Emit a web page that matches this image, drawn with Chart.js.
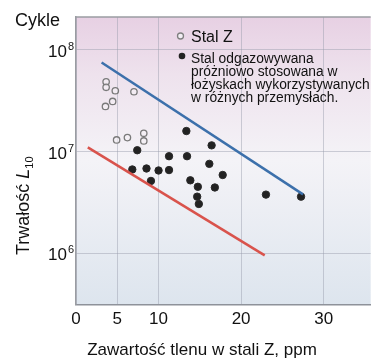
<!DOCTYPE html>
<html>
<head>
<meta charset="utf-8">
<script src="https://cdn.jsdelivr.net/npm/chart.js@4.4.0/dist/chart.umd.min.js"></script>
<style>
  html, body { margin: 0; padding: 0; background: #fff; }
  #wrap { width: 376px; height: 358px; }
</style>
</head>
<body>
<div id="wrap"><canvas id="chart"></canvas></div>
<script>
'use strict';

// oxygen content [ppm] and life L10 [cycles]
let stalZX = [3.65, 3.65, 4.76, 7.02, 3.57, 4.44, 4.92, 6.23, 8.21, 8.21];
let stalZY = [4.83e7, 4.27e7, 3.95e7, 3.86e7, 2.77e7, 3.10e7, 1.30e7, 1.37e7, 1.51e7, 1.27e7];

let vacX = [13.37, 16.43, 7.42, 11.27, 13.45, 16.15, 6.82, 8.54, 10.0, 11.27,
  17.77, 9.08, 13.85, 14.76, 16.82, 14.68, 14.88, 23.01, 27.26];
let vacY = [1.59e7, 1.15e7, 1.03e7, 9.0e6, 9.0e6, 7.57e6, 6.67e6, 6.82e6, 6.52e6, 6.58e6,
  5.89e6, 5.15e6, 5.22e6, 4.51e6, 4.44e6, 3.61e6, 3.06e6, 3.78e6, 3.61e6];

let blueLineX = [3.1, 27.5];
let blueLineY = [7.49e7, 3.8e6];
let redLineX = [1.43, 22.86];
let redLineY = [1.10e7, 9.57e5];

let xTicks = [0, 5, 10, 20, 30];
let yTicks = [1e6, 1e7, 1e8];
let yTickExp = ['6', '7', '8'];

let legendZ = 'Stal Z';
let legendVac = ['Stal odgazowywana', 'próżniowo stosowana w', 'łożyskach wykorzystywanych', 'w różnych przemysłach.'];

function toPoints(xs, ys) {
  let pts = [];
  for (let i = 0; i < xs.length; i++) {
    pts.push({ x: xs[i], y: ys[i] });
  }
  return pts;
}

const FONT = '"Liberation Sans", Arial, sans-serif';

const bgPlugin = {
  id: 'bg',
  beforeDraw(chart) {
    const { ctx, chartArea: a } = chart;
    let g = ctx.createLinearGradient(0, a.top, 0, a.bottom);
    g.addColorStop(0, '#e7d0e3');
    g.addColorStop(0.2, '#eee2ed');
    g.addColorStop(0.5, '#f4f3f7');
    g.addColorStop(1, '#dde5ee');
    ctx.save();
    ctx.fillStyle = g;
    ctx.fillRect(a.left, a.top, a.right - a.left, a.bottom - a.top);
    ctx.restore();
  }
};

const textPlugin = {
  id: 'texts',
  afterDraw(chart) {
    const ctx = chart.ctx;
    const a = chart.chartArea;
    const yScale = chart.scales.y;
    ctx.save();

    // top border
    ctx.strokeStyle = '#9a9ca2';
    ctx.lineWidth = 1.5;
    ctx.beginPath();
    ctx.moveTo(a.left, a.top);
    ctx.lineTo(a.right, a.top);
    ctx.stroke();

    ctx.fillStyle = '#111';
    ctx.textBaseline = 'alphabetic';

    // y tick labels 10^n
    for (let i = 0; i < yTicks.length; i++) {
      let py = yScale.getPixelForValue(yTicks[i]);
      ctx.font = '17px ' + FONT;
      ctx.textAlign = 'right';
      ctx.fillText('10', 67, py + 7);
      ctx.font = '11px ' + FONT;
      ctx.textAlign = 'left';
      ctx.fillText(yTickExp[i], 68, py);
    }

    // unit
    ctx.font = '18px ' + FONT;
    ctx.textAlign = 'left';
    ctx.fillText('Cykle', 15, 26);

    // y title
    ctx.save();
    ctx.translate(29, 255);
    ctx.rotate(-Math.PI / 2);
    ctx.font = '18px ' + FONT;
    let t1 = 'Trwałość ';
    ctx.fillText(t1, 0, 0);
    let w = ctx.measureText(t1).width;
    ctx.font = 'italic 18px ' + FONT;
    ctx.fillText('L', w, 0);
    w += ctx.measureText('L').width;
    ctx.font = '11px ' + FONT;
    ctx.fillText('10', w, 4);
    ctx.restore();

    // x title
    ctx.font = '17px ' + FONT;
    ctx.textAlign = 'center';
    ctx.fillText('Zawartość tlenu w stali Z, ppm', 202, 355);

    // legend
    ctx.beginPath();
    ctx.arc(180.5, 36, 3, 0, Math.PI * 2);
    ctx.fillStyle = '#f2eef4';
    ctx.fill();
    ctx.strokeStyle = '#808080';
    ctx.lineWidth = 1.3;
    ctx.stroke();
    ctx.fillStyle = '#111';
    ctx.font = '16px ' + FONT;
    ctx.textAlign = 'left';
    ctx.fillText(legendZ, 191, 42);

    ctx.beginPath();
    ctx.arc(182, 56, 3.3, 0, Math.PI * 2);
    ctx.fillStyle = '#222';
    ctx.fill();
    ctx.fillStyle = '#111';
    ctx.font = '13.8px ' + FONT;
    for (let i = 0; i < legendVac.length; i++) {
      ctx.fillText(legendVac[i], 191, 63.3 + i * 12.8);
    }
    ctx.restore();
  }
};

function renderChart() {
  const ctx = document.getElementById('chart');
  const config = {
    type: 'scatter',
    data: {
      datasets: [
        {
          label: 'blue',
          data: toPoints(blueLineX, blueLineY),
          showLine: true,
          borderColor: '#3c70ab',
          borderWidth: 2.5,
          pointRadius: 0
        },
        {
          label: 'red',
          data: toPoints(redLineX, redLineY),
          showLine: true,
          borderColor: '#d9534c',
          borderWidth: 2.5,
          pointRadius: 0
        },
        {
          label: legendZ,
          data: toPoints(stalZX, stalZY),
          pointRadius: 3.2,
          borderWidth: 1.3,
          borderColor: '#7a7a7a',
          backgroundColor: 'rgba(245,240,245,0.6)'
        },
        {
          label: legendVac.join(' '),
          data: toPoints(vacX, vacY),
          pointRadius: 3.7,
          borderWidth: 1,
          borderColor: '#2a2a2a',
          backgroundColor: '#222'
        }
      ]
    },
    options: {
      responsive: true,
      maintainAspectRatio: false,
      animation: false,
      layout: { padding: { left: 76, top: 17, right: 0, bottom: 23 } },
      plugins: {
        legend: { display: false },
        tooltip: { enabled: false }
      },
      scales: {
        x: {
          type: 'linear',
          min: 0,
          max: 35.7,
          afterBuildTicks: (scale) => { scale.ticks = xTicks.map(v => ({ value: v })); },
          ticks: {
            color: '#111',
            font: { family: FONT, size: 17 },
            padding: 5,
            maxRotation: 0,
            autoSkip: false
          },
          grid: { color: 'rgba(150,155,170,0.45)', drawTicks: false, lineWidth: 1 },
          border: { color: '#8e929a', width: 1.5 }
        },
        y: {
          type: 'logarithmic',
          min: 3.15e5,
          max: 2.09e8,
          afterBuildTicks: (scale) => { scale.ticks = yTicks.map(v => ({ value: v })); },
          ticks: { display: false },
          grid: { color: 'rgba(150,155,170,0.45)', drawTicks: false, lineWidth: 1 },
          border: { color: '#9a9ca2', width: 1.5 }
        }
      }
    },
    plugins: [bgPlugin, textPlugin]
  };
  new Chart(ctx, config);
}

renderChart();
</script>
</body>
</html>
